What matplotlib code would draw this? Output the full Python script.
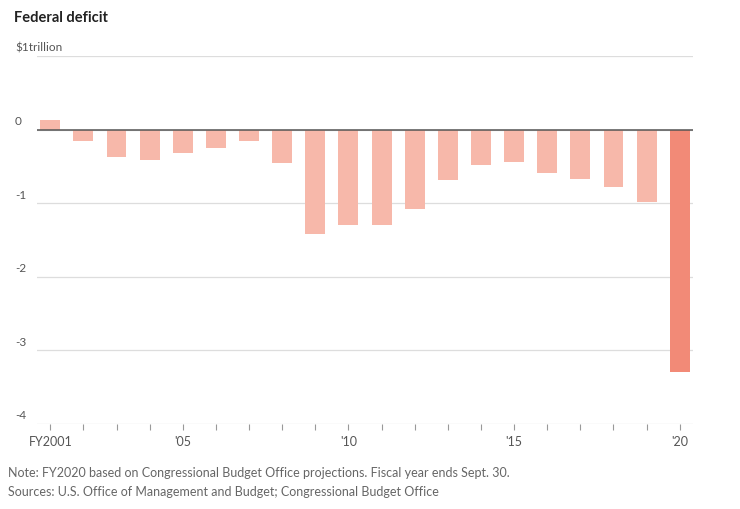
import matplotlib.pyplot as plt
import matplotlib.transforms as mtransforms

years = list(range(2001, 2021))
deficit = [0.128, -0.158, -0.378, -0.413, -0.318, -0.248, -0.161, -0.459,
           -1.413, -1.294, -1.300, -1.077, -0.680, -0.485, -0.442, -0.585,
           -0.665, -0.779, -0.984, -3.30]
yticks = [1, 0, -1, -2, -3, -4]
ytick_labels = ["$1trillion", "0", "-1", "-2", "-3", "-4"]
xtick_labels = {2001: "FY2001", 2005: "'05", 2010: "'10", 2015: "'15", 2020: "'20"}

plt.rcParams['font.family'] = ['Lato', 'DejaVu Sans']

fig = plt.figure(figsize=(7.4, 5.09), dpi=100)
ax = fig.add_axes([0.05, 0.167, 0.8865, 0.723])

colors = ["#f7b8aa"] * (len(years) - 1) + ["#f28a77"]
ax.bar(years, deficit, width=0.6, color=colors, zorder=2)

ax.set_xlim(2000.6, 2020.4)
ax.set_ylim(-4, 1)

for v in yticks:
    ax.axhline(v, color="#dddddd", lw=0.9, zorder=1)
ax.axhline(0, color="#555555", lw=1.1, zorder=3)

# y labels sit just above their gridlines, at the left edge of the figure
trans = mtransforms.blended_transform_factory(fig.transFigure, ax.transData)
shift = mtransforms.ScaledTranslation(0, 1.8 / 72, fig.dpi_scale_trans)
for v, lab in zip(yticks, ytick_labels):
    ax.text(15 / 740, v, lab, transform=trans + shift, ha="left", va="bottom",
            fontsize=8.5, color="#555555")

ax.set_yticks([])
ax.set_xticks(years)
ax.set_xticklabels([xtick_labels.get(y, "") for y in years])
ax.tick_params(axis="x", length=4, width=0.8, color="#999999", labelsize=9,
               labelcolor="#555555", pad=5)
for s in ax.spines.values():
    s.set_visible(False)

fig.text(14 / 740, 1 - 18 / 509, "Federal deficit", fontsize=10.5, fontweight="bold",
         color="#222222", va="center", ha="left")
fig.text(8 / 740, 1 - 473 / 509,
         "Note: FY2020 based on Congressional Budget Office projections. Fiscal year ends Sept. 30.",
         fontsize=9, color="#666666", va="center", ha="left")
fig.text(8 / 740, 1 - 492 / 509,
         "Sources: U.S. Office of Management and Budget; Congressional Budget Office",
         fontsize=9, color="#666666", va="center", ha="left")

fig.savefig("out.png", dpi=100, facecolor="white")
